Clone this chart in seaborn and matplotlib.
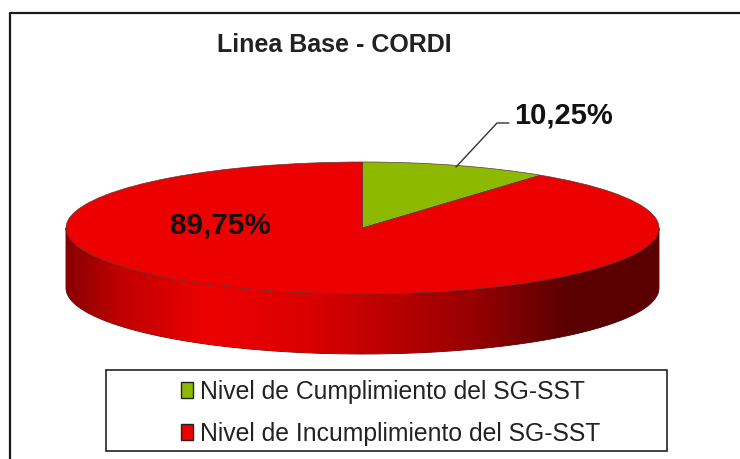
import numpy as np
import matplotlib
matplotlib.use("Agg")
import matplotlib.pyplot as plt
import seaborn as sns
from matplotlib.patches import Rectangle, Patch, PathPatch
from matplotlib.path import Path
from matplotlib.colors import LinearSegmentedColormap

categories = ["Nivel de Cumplimiento del SG-SST", "Nivel de Incumplimiento del SG-SST"]
values = [10.25, 89.75]
value_labels = ["10,25%", "89,75%"]
colors = ["#8DB900", "#EC0000"]
title = "Linea Base - CORDI"

sns.set_theme(style="white")
plt.rcParams["font.family"] = ["Liberation Sans", "DejaVu Sans"]

W, H = 740, 459
fig = plt.figure(figsize=(W / 100, H / 100), dpi=100, facecolor="white")
ax = fig.add_axes([0, 0, 1, 1])
ax.set_xlim(0, W)
ax.set_ylim(H, 0)
ax.set_aspect("auto")
ax.axis("off")

cx, cy, a, b, depth = 362.5, 228, 296.5, 66, 60

# chart frame: left and top edges only, as cropped in the reference
ax.plot([9.5, 9.5, W], [H, 12.5, 12.5], color="#1a1a1a", lw=1.6, zorder=1)

# side wall of the disc with a horizontal red-to-dark gradient
t = np.linspace(0, np.pi, 200)
xs = cx + a * np.cos(t)
ys = cy + b * np.sin(t)
verts = np.r_[np.c_[xs, ys + depth], np.c_[xs[::-1], ys[::-1]], [[xs[0], ys[0] + depth]]]
wall = PathPatch(Path(verts), facecolor="none", edgecolor="#3a0000", lw=0.6, zorder=2)
ax.add_patch(wall)
cmap = LinearSegmentedColormap.from_list(
    "wall", [(0, "#8a0000"), (0.09, "#c00000"), (0.24, "#ee0000"), (0.42, "#d80000"),
             (0.68, "#990000"), (0.85, "#5a0000"), (1, "#5c0000")])
im = ax.imshow(np.linspace(0, 1, 256)[None, :], extent=[cx - a, cx + a, cy + b + depth, cy],
               cmap=cmap, aspect="auto", zorder=2)
im.set_clip_path(wall)
ax.set_xlim(0, W)
ax.set_ylim(H, 0)

# top of the disc: the library's pie, scaled into an ellipse through a child axes
pie_ax = fig.add_axes([(cx - a) / W, 1 - (cy + b) / H, 2 * a / W, 2 * b / H], zorder=3)
pie_ax.pie(values, colors=colors, startangle=90, counterclock=False, radius=1,
           wedgeprops=dict(edgecolor="#5a3a3a", linewidth=0.5))
pie_ax.set_aspect("auto")
pie_ax.set_xlim(-1, 1)
pie_ax.set_ylim(-1, 1)
pie_ax.patch.set_alpha(0)

# overlay for text on top of everything
ov = fig.add_axes([0, 0, 1, 1], zorder=4)
ov.set_xlim(0, W)
ov.set_ylim(H, 0)
ov.axis("off")
ov.patch.set_alpha(0)

ov.text(334.5, 45, title, fontsize=18, fontweight="bold", color="#222222", ha="center", va="center")
ov.text(514, 116, value_labels[0], fontsize=21, fontweight="bold", color="#111111", ha="left", va="center")
ov.text(220.5, 226, value_labels[1], fontsize=21.3, fontweight="bold", color="#111111", ha="center", va="center")
ov.plot([456, 497, 509], [167, 123, 123], color="#333333", lw=1.0)

# legend
ov.add_patch(Rectangle((106, 370), 561, 81, facecolor="white", edgecolor="#222222", lw=1.2))
handles = [Patch(facecolor=c, edgecolor="#222222", linewidth=1.0) for c in colors]
ov.legend(handles, categories, loc="upper left", bbox_to_anchor=(181 / W, 1 - 380 / H),
          frameon=False, fontsize=17.8, handlelength=0.5, handleheight=0.6, handletextpad=0.25,
          labelspacing=0.72, borderpad=0, borderaxespad=0, labelcolor="#222222")

fig.savefig("out.png", dpi=100)
